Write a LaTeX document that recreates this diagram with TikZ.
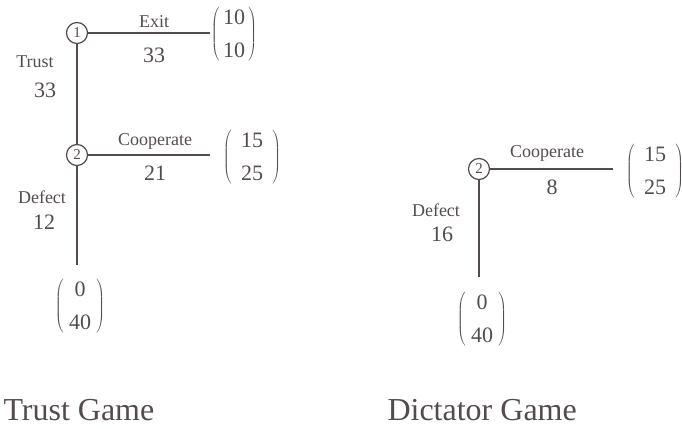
\documentclass[tikz,border=0pt]{standalone}
\usepackage{fontspec}
\setmainfont{Liberation Serif}
\usetikzlibrary{matrix}
\definecolor{ink}{RGB}{84,76,76}
\begin{document}
\begin{tikzpicture}[x=1pt,y=-1pt,
  every node/.style={text=ink},
  every delimiter/.style={text=ink},
  edge/.style={draw=ink, line width=1.9pt},
  decision/.style={circle, draw=ink, line width=1.2pt, minimum size=21pt, inner sep=0pt, fill=white, font=\fontsize{15}{15}\selectfont},
  lab/.style={font=\fontsize{18}{18}\selectfont},
  num/.style={font=\fontsize{22}{22}\selectfont},
  payoff/.style={align=center, font=\fontsize{22}{33}\selectfont, left delimiter=(, right delimiter=), inner ysep=5pt},
  title/.style={anchor=base west, font=\fontsize{32}{32}\selectfont}]
\useasboundingbox (0,0) rectangle (682,428);

% Trust game
\node[decision] (n1) at (77,33) {1};
\node[decision] (n2) at (77,155) {2};
\coordinate (exitend) at (210,33);
\coordinate (coopend) at (210,155);
\coordinate (defend) at (77,265);
\draw[edge] (n1) -- (exitend);
\draw[edge] (n1) -- (n2);
\draw[edge] (n2) -- (coopend);
\draw[edge] (n2) -- (defend);
\node[lab] (lexit) at (154,22) {Exit};
\node[num] (vexit) at (154,55) {33};
\node[lab] (ltrust) at (35,62) {Trust};
\node[num] (vtrust) at (45,90) {33};
\node[lab] (lcoop) at (155,141) {Cooperate};
\node[num] (vcoop) at (155,173) {21};
\node[lab] (ldef) at (42,197) {Defect};
\node[num] (vdef) at (44,222) {12};
\node[payoff, inner xsep=2pt] (p1) at (234,34) {10\\10};
\node[payoff, inner xsep=8pt] (p2) at (252,157) {15\\25};
\node[payoff, inner xsep=4pt] (p3) at (80,306) {0\\40};
\node[title] (t1) at (0,420) {Trust Game};

% Dictator game
\node[decision] (d2) at (479,169) {2};
\coordinate (dcoopend) at (613,169);
\coordinate (ddefend) at (479,277);
\draw[edge] (d2) -- (dcoopend);
\draw[edge] (d2) -- (ddefend);
\node[lab] (dlcoop) at (547,153) {Cooperate};
\node[num] (dvcoop) at (552,187) {8};
\node[lab] (dldef) at (436,210) {Defect};
\node[num] (dvdef) at (442,234) {16};
\node[payoff, inner xsep=8pt] (q1) at (655,171) {15\\25};
\node[payoff, inner xsep=4pt] (q2) at (482,319) {0\\40};
\node[title] (t2) at (384,420) {Dictator Game};
\end{tikzpicture}
\end{document}
